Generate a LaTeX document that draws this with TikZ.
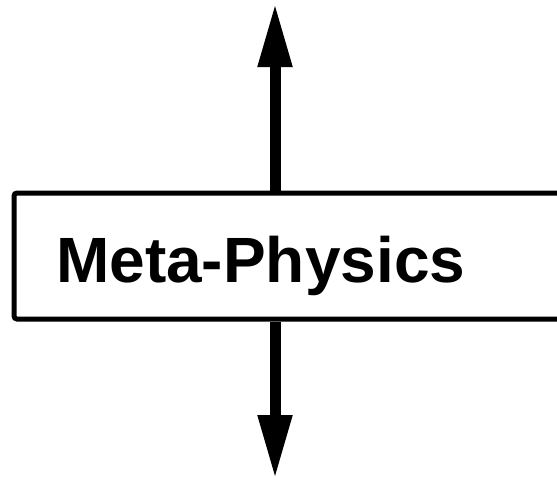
\documentclass[tikz,border=0pt]{standalone}
\usepackage{fontspec}
\setmainfont{Liberation Sans}
\usetikzlibrary{arrows.meta}
\begin{document}
\begin{tikzpicture} [x = 1pt, y = -1pt]
	\clip (0,0) rectangle (557,482);
	\node [draw, line width = 5pt, rounded corners = 3pt, anchor = west, minimum width = 600pt, minimum height = 126pt, inner sep = 0pt] (box) at (11.5,256) {};
	\node [anchor = base west, inner sep = 0pt, font = \bfseries\fontsize{64}{72}\selectfont] (title) at (56,282) {Meta-Physics};
	\coordinate (top) at (275,3);
	\coordinate (bottom) at (275,479);
	\draw [line width = 11pt, -{Triangle[length = 64pt, width = 32pt]}] (top |- box.north) -- (top);
	\draw [line width = 11pt, -{Triangle[length = 64pt, width = 32pt]}] (bottom |- box.south) -- (bottom);
	\end{tikzpicture}
\end{document}
